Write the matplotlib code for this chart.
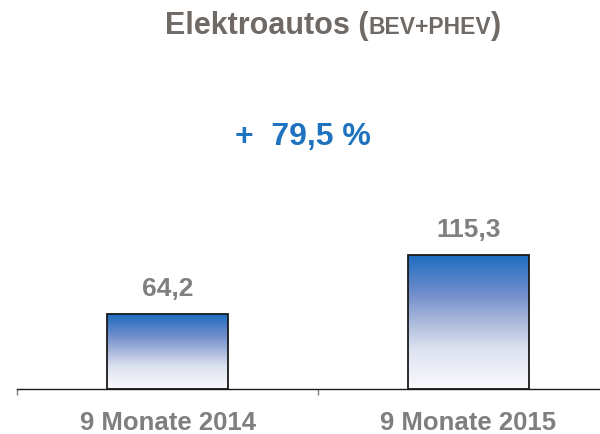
import matplotlib
matplotlib.use("Agg")
import matplotlib.pyplot as plt
import numpy as np
from matplotlib.colors import LinearSegmentedColormap
from matplotlib.offsetbox import TextArea, HPacker, AnchoredOffsetbox

categories = ["9 Monate 2014", "9 Monate 2015"]
values = [64.2, 115.3]
value_labels = ["64,2", "115,3"]
growth_label = "+  79,5 %"
title_main = "Elektroautos ("
title_small = "BEV+PHEV"
title_end = ")"

plt.rcParams['font.family'] = ['Liberation Sans', 'DejaVu Sans']

W, H = 600, 434
fig = plt.figure(figsize=(W / 100, H / 100), dpi=100)
ax = fig.add_axes([17 / W, 45 / H, 602 / W, 389 / H])
ax.set_xlim(-0.5, 1.5)
ax.set_ylim(0, 334.5)

cmap = LinearSegmentedColormap.from_list(
    "grad", [(0.0, "#FAFAFD"), (0.3, "#DDE2F0"), (0.5, "#AAB8DC"),
             (0.72, "#6D8CCB"), (1.0, "#1D6DC0")])
grad = np.linspace(0, 1, 256).reshape(-1, 1)

x = np.arange(len(categories))
bw = 0.40
bars = ax.bar(x, values, width=bw, color="none", edgecolor="#1a1a1a",
              linewidth=1.3, zorder=3)
for b, v, lab in zip(bars, values, value_labels):
    x0 = b.get_x()
    im = ax.imshow(grad, cmap=cmap, origin="lower", aspect="auto",
                   extent=[x0, x0 + bw, 0, v], zorder=2, interpolation="bilinear")
    im.set_clip_path(b)
    ax.annotate(lab, (b.get_x() + bw / 2, v), xytext=(0, 13),
                textcoords="offset points", ha="center", va="baseline",
                fontsize=19, fontweight="bold", color="#7F7F7F")

for s in ["top", "right", "left"]:
    ax.spines[s].set_visible(False)
ax.spines["bottom"].set_color("#1a1a1a")
ax.spines["bottom"].set_linewidth(1.0)
ax.set_yticks([])
ax.set_xticks(x)
ax.set_xticklabels(categories, fontsize=18.5, fontweight="bold", color="#7F7F7F")
ax.tick_params(axis="x", which="major", length=0, pad=16)
ax.set_xticks([-0.5, 0.5, 1.5], minor=True)
ax.tick_params(axis="x", which="minor", length=4.5, width=1.0, color="#7F7F7F")

fig.text(303 / W, 1 - 145 / H, growth_label, ha="center", va="baseline",
         fontsize=23, fontweight="bold", color="#1E72BE")

tcol = "#6F6A66"
p1 = TextArea(title_main, textprops=dict(fontsize=22, fontweight="bold", color=tcol))
p2 = TextArea(title_small, textprops=dict(fontsize=16.5, fontweight="bold", color=tcol))
p3 = TextArea(title_end, textprops=dict(fontsize=22, fontweight="bold", color=tcol))
pack = HPacker(children=[p1, p2, p3], align="baseline", pad=0, sep=0)
anch = AnchoredOffsetbox(loc="center", child=pack, pad=0, frameon=False,
                         bbox_to_anchor=(333 / W, 1 - 26 / H),
                         bbox_transform=fig.transFigure, borderpad=0)
fig.add_artist(anch)

fig.savefig("out.png", dpi=100)
